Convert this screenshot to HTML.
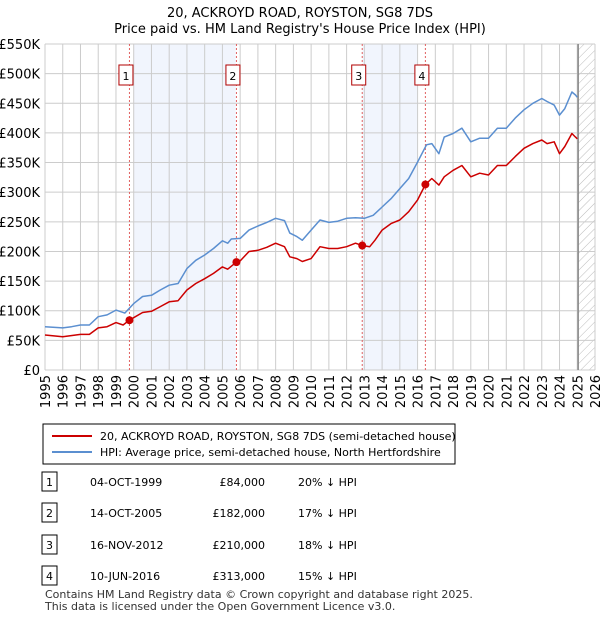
<!DOCTYPE html>
<html><head><meta charset="utf-8"><style>
body{margin:0;background:#fff;font-family:"Liberation Sans","DejaVu Sans",sans-serif;}
svg text{font-family:"DejaVu Sans","Liberation Sans",sans-serif;}
</style></head><body>
<svg width="600" height="620" viewBox="0 0 600 620">
<defs><pattern id="hatch" width="6" height="6" patternUnits="userSpaceOnUse" patternTransform="rotate(45)"><line x1="0" y1="0" x2="0" y2="6" stroke="#bbb" stroke-width="1"/></pattern></defs>
<text x="300" y="17" text-anchor="middle" font-size="13">20, ACKROYD ROAD, ROYSTON, SG8 7DS</text>
<text x="300" y="33" text-anchor="middle" font-size="13">Price paid vs. HM Land Registry's House Price Index (HPI)</text>
<g id="plot"></g>
<g>
<rect x="43" y="424" width="412" height="40" fill="#fff" stroke="#000"/>
<line x1="52" y1="436" x2="92" y2="436" stroke="#cc0000" stroke-width="2"/>
<text x="100" y="440" font-size="11">20, ACKROYD ROAD, ROYSTON, SG8 7DS (semi-detached house)</text>
<line x1="52" y1="452" x2="92" y2="452" stroke="#5b8fd0" stroke-width="2"/>
<text x="100" y="456" font-size="11">HPI: Average price, semi-detached house, North Hertfordshire</text>
</g>
<g id="table" font-size="11"></g>
<text x="45" y="598" font-size="11" fill="#333">Contains HM Land Registry data © Crown copyright and database right 2025.</text>
<text x="45" y="610" font-size="11" fill="#333">This data is licensed under the Open Government Licence v3.0.</text>
</svg>
<script>
const hpiYears=[1995,1996,1996.5,1997,1997.5,1998,1998.5,1999,1999.5,2000,2000.5,2001,2001.5,2002,2002.5,2003,2003.5,2004,2004.5,2005,2005.3,2005.5,2006,2006.5,2007,2007.5,2008,2008.5,2008.8,2009.2,2009.5,2010,2010.5,2011,2011.5,2012,2012.5,2013,2013.5,2014,2014.5,2015,2015.5,2016,2016.5,2016.8,2017.2,2017.5,2018,2018.5,2019,2019.5,2020,2020.5,2021,2021.5,2022,2022.5,2023,2023.3,2023.7,2024,2024.3,2024.7,2024.9,2025];
const hpiValues=[73,71,73,76,76,90,93,101,96,112,124,126,135,143,146,171,185,194,205,218,214,221,222,236,243,249,256,252,231,225,219,236,253,249,251,256,257,256,261,275,289,306,323,351,380,382,365,393,399,408,385,391,391,408,408,425,439,450,458,453,447,430,441,469,464,460];
const priceYears=[1995,1996,1997,1997.5,1998,1998.5,1999,1999.4,1999.75,2000.5,2001,2001.5,2002,2002.5,2003,2003.5,2004,2004.5,2005,2005.3,2005.79,2006,2006.5,2007,2007.5,2008,2008.5,2008.8,2009.2,2009.5,2010,2010.5,2011,2011.5,2012,2012.5,2012.88,2013.3,2013.6,2014,2014.5,2015,2015.5,2016,2016.44,2016.8,2017.2,2017.5,2018,2018.5,2019,2019.5,2020,2020.5,2021,2021.5,2022,2022.5,2023,2023.3,2023.7,2024,2024.3,2024.7,2024.9,2025];
const priceValues=[59,56,60,60,71,73,80,76,84,97,99,107,115,117,135,146,154,163,174,170,182,184,200,202,207,214,208,191,188,183,188,208,205,205,208,214,210,208,219,236,247,253,267,287,313,323,312,326,337,345,326,332,329,345,345,360,374,382,388,382,385,365,377,399,393,390];
const saleLabels=["1","2","3","4"];
const saleYears=[1999.76,2005.79,2012.88,2016.44];
const saleValues=[84,182,210,313];
const saleDates=["04-OCT-1999","14-OCT-2005","16-NOV-2012","10-JUN-2016"];
const salePrices=["£84,000","£182,000","£210,000","£313,000"];
const saleDiffs=["20% ↓ HPI","17% ↓ HPI","18% ↓ HPI","15% ↓ HPI"];
const yTicks=[0,50,100,150,200,250,300,350,400,450,500,550];
const yTickLabels=["£0","£50K","£100K","£150K","£200K","£250K","£300K","£350K","£400K","£450K","£500K","£550K"];
const xTicks=[1995,1996,1997,1998,1999,2000,2001,2002,2003,2004,2005,2006,2007,2008,2009,2010,2011,2012,2013,2014,2015,2016,2017,2018,2019,2020,2021,2022,2023,2024,2025,2026];
const shadeStart=[2000.0,2012.9];
const shadeEnd=[2005.75,2016.0];

const NS="http://www.w3.org/2000/svg";
const X0=45,X1=595,Y0=370,Y1=44;
const xs=y=>X0+(y-1995)/(2026-1995)*(X1-X0);
const ys=v=>Y0-v/550*(Y0-Y1);
const plot=document.getElementById('plot');
function mk(t,a,p){const e=document.createElementNS(NS,t);for(const k in a)e.setAttribute(k,a[k]);(p||plot).appendChild(e);return e;}
for(let i=0;i<shadeStart.length;i++){
 const r=mk('rect',{x:xs(shadeStart[i]),y:Y1,width:xs(shadeEnd[i])-xs(shadeStart[i]),height:Y0-Y1,fill:'#eef3fc',opacity:0.8});
 
 
}
const hx=xs(2025.05);
const hr=mk('rect',{x:hx,y:Y1,width:X1-hx,height:Y0-Y1,fill:'url(#hatch)'});


yTicks.forEach((v,i)=>{
 const l=mk('line',{x1:X0,x2:X1,y1:ys(v),y2:ys(v),stroke:'#ccc','stroke-width':1});
 
 
 const t=mk('text',{x:40,y:ys(v)+5,'text-anchor':'end','font-size':13});
 t.textContent=yTickLabels[i];
 
 
});
xTicks.forEach(y=>{
 const l=mk('line',{x1:xs(y),x2:xs(y),y1:Y1,y2:Y0,stroke:'#ccc','stroke-width':1});
 
 
 const t=mk('text',{x:0,y:0,'font-size':13,'text-anchor':'end',transform:`translate(${xs(y)+5},375) rotate(-90)`});
 t.textContent=y;
 
 
});
const vl=mk('line',{x1:hx,x2:hx,y1:Y1,y2:Y0,stroke:'#888','stroke-width':1.5});


saleYears.forEach((y,i)=>{
 const l=mk('line',{x1:xs(y),x2:xs(y),y1:Y1,y2:Y0,stroke:'#e06060','stroke-width':1,'stroke-dasharray':'2,2'});
 
 
 const b=mk('rect',{x:xs(y)-10.5,y:65,width:14,height:20,fill:'#fff',stroke:'#b00000'});
 
 
 const t=mk('text',{x:xs(y)-3.5,y:80,'text-anchor':'middle','font-size':11});
 t.textContent=saleLabels[i];
 
 
});
function line(xa,va,c,n){
 const d=xa.map((x,i)=>(i?'L':'M')+xs(x).toFixed(1)+','+ys(va[i]).toFixed(1)).join('');
 const p=mk('path',{d:d,fill:'none',stroke:c,'stroke-width':1.5,'stroke-linejoin':'round'});
 
 
}
line(hpiYears,hpiValues,'#5b8fd0','hpi-line');
line(priceYears,priceValues,'#cc0000','price-paid-line');
saleYears.forEach((y,i)=>{
 const c=mk('circle',{cx:xs(y),cy:ys(saleValues[i]),r:4,fill:'#cc0000'});
 
 
});
const tb=document.getElementById('table');
const rowY=[482,513,545,576];
saleLabels.forEach((s,i)=>{
 const y=rowY[i];
 const b=mk('rect',{x:42,y:y-10,width:15,height:19,fill:'#fff',stroke:'#000'},tb);
 
 
 const cells=[[49.5,s,'middle'],[90,saleDates[i],'start'],[265,salePrices[i],'end'],[298,saleDiffs[i],'start']];
 cells.forEach(c=>{
  const t=mk('text',{x:c[0],y:y+4,'text-anchor':c[2],'font-size':11},tb);
  t.textContent=c[1];
  
  
 });
});
</script>
</body></html>
